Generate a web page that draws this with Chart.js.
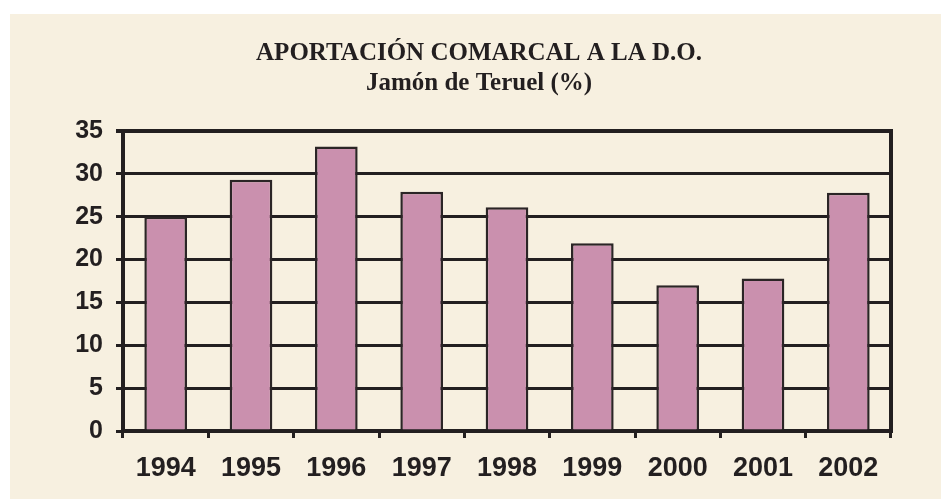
<!DOCTYPE html>
<html>
<head>
<meta charset="utf-8">
<script src="https://cdn.jsdelivr.net/npm/chart.js@4/dist/chart.umd.min.js"></script>
<style>
  body { margin: 0; background: #ffffff; }
  #panel {
    position: absolute; left: 10px; top: 14px;
    width: 931px; height: 485px; background: #F7F0E0;
  }
</style>
</head>
<body>
<div id="panel"><canvas id="myChart" width="931" height="485"></canvas></div>
<script>
// datos del grafico
const anios = ["1994", "1995", "1996", "1997", "1998", "1999", "2000", "2001", "2002"];
const aportacion = [25.0, 29.3, 33.2, 27.9, 26.1, 21.9, 17.0, 17.8, 27.8];
const titulo = ["APORTACIÓN COMARCAL A LA D.O.", "Jamón de Teruel (%)"];
const ejeYMax = 35;
const ejeYPaso = 5;

const tinta = "#231F20";
const colorBarra = "#CA90AE";

const config = {
    type: "bar",
    data: {
        labels: anios,
        datasets: [
            {
                data: aportacion,
                backgroundColor: colorBarra,
                borderColor: "#2B2526",
                borderWidth: 2.5,
                barPercentage: 0.5,
                categoryPercentage: 1
            }
        ]
    },
    options: {
        responsive: false,
        animation: false,
        layout: { padding: { left: 7, right: 0, top: 0, bottom: 0 } },
        plugins: {
            legend: { display: false },
            tooltip: { enabled: false },
            title: {
                display: true,
                text: titulo,
                color: tinta,
                font: { family: "'Liberation Serif', 'DejaVu Serif', serif", size: 25, weight: "bold", lineHeight: 1.2 },
                padding: { top: 25, bottom: 32 }
            }
        },
        scales: {
            x: {
                grid: {
                    drawOnChartArea: false,
                    drawTicks: true,
                    tickLength: 7,
                    lineWidth: 3,
                    color: tinta
                },
                border: { display: true, width: 4, color: tinta },
                ticks: {
                    color: tinta,
                    padding: 14,
                    font: { family: "'Liberation Sans', Arial, sans-serif", size: 27, weight: "bold" }
                },
                afterFit: (scale) => { scale.height = 68; }
            },
            y: {
                min: 0,
                max: ejeYMax,
                ticks: {
                    stepSize: ejeYPaso,
                    color: tinta,
                    padding: 13,
                    font: { family: "'Liberation Sans', Arial, sans-serif", size: 25, weight: "bold" }
                },
                grid: {
                    color: tinta,
                    lineWidth: (ctx) => (ctx.tick && ctx.tick.value === ejeYMax ? 4 : 3),
                    drawTicks: true,
                    tickLength: 7
                },
                border: { display: true, width: 4, color: tinta },
                afterFit: (scale) => { scale.width = 106; }
            },
            y2: {
                position: "right",
                min: 0,
                max: ejeYMax,
                ticks: { display: false },
                grid: { drawOnChartArea: false, drawTicks: false },
                border: { display: true, width: 4, color: tinta },
                afterFit: (scale) => { scale.width = 50; }
            }
        }
    }
};

const chartDOM = document.getElementById("myChart");
new Chart(chartDOM, config);
</script>
</body>
</html>
